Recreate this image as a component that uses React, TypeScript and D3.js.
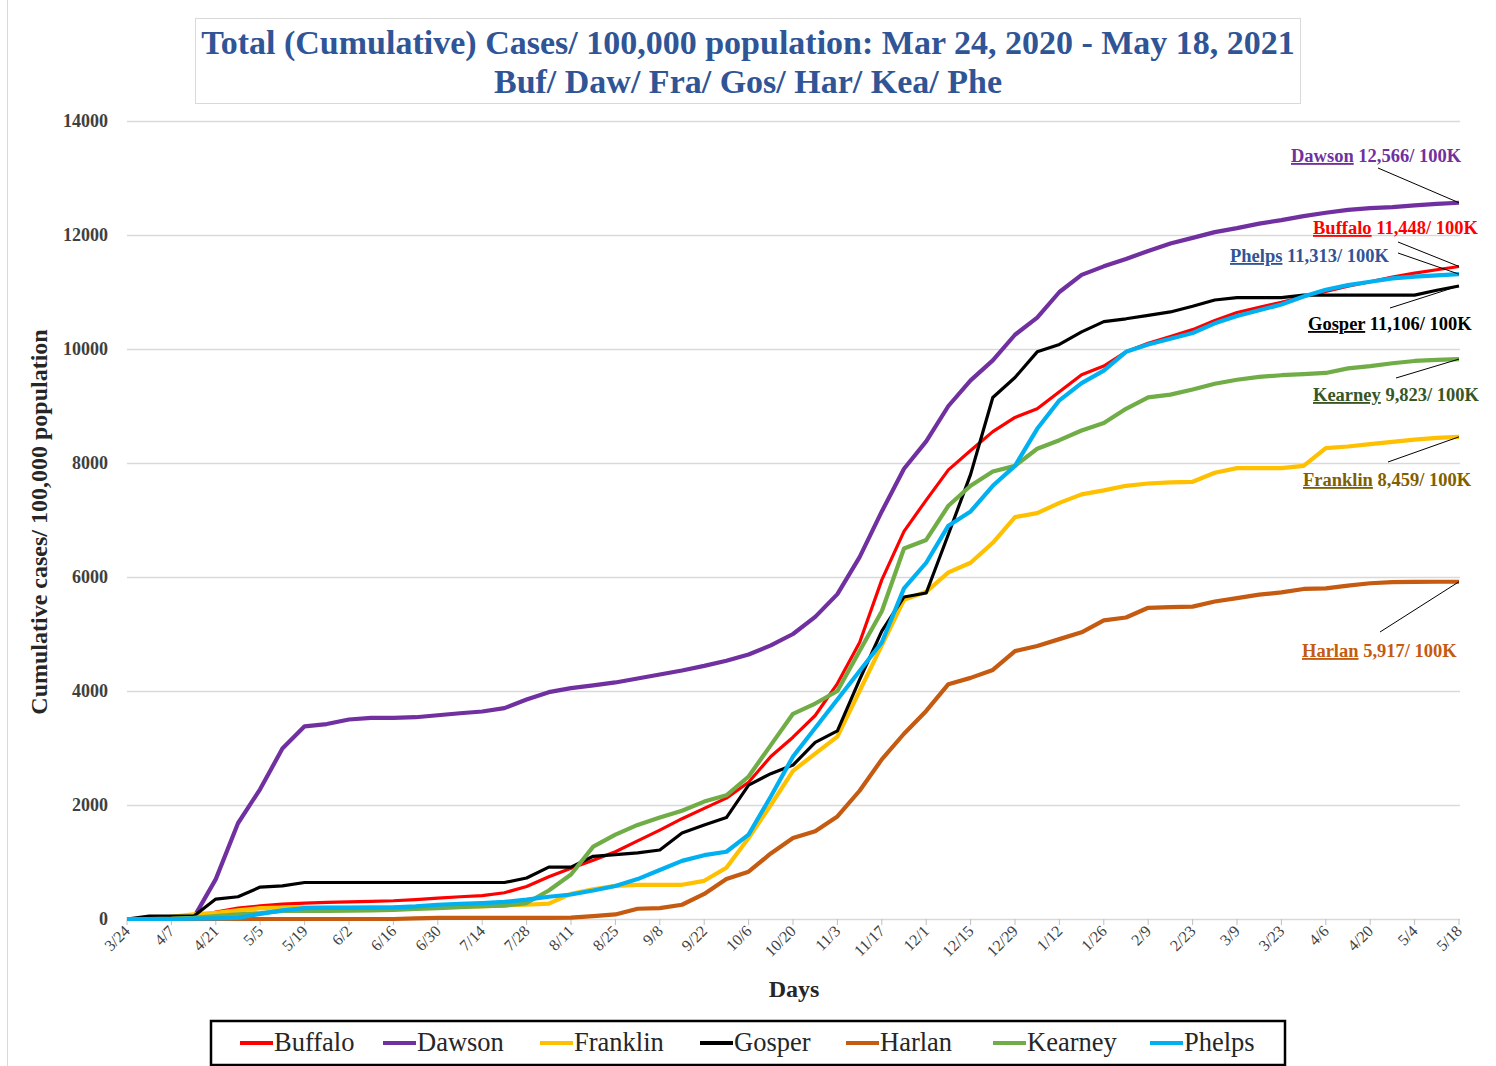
import React, { useEffect, useRef } from "react";
import * as d3 from 'd3';

// day offsets from 3/24/2020, one point a week
const days = [0, 7, 14, 21, 28, 35, 42, 49, 56, 63, 70, 77, 84, 91, 98, 105, 112, 119, 126, 133, 140, 147, 154, 161, 168, 175, 182, 189, 196, 203, 210, 217, 224, 231, 238, 245, 252, 259, 266, 273, 280, 287, 294, 301, 308, 315, 322, 329, 336, 343, 350, 357, 364, 371, 378, 385, 392, 399, 406, 413, 420];

const tickLabels = ['3/24', '4/7', '4/21', '5/5', '5/19', '6/2', '6/16', '6/30', '7/14', '7/28', '8/11', '8/25', '9/8', '9/22', '10/6', '10/20', '11/3', '11/17', '12/1', '12/15', '12/29', '1/12', '1/26', '2/9', '2/23', '3/9', '3/23', '4/6', '4/20', '5/4', '5/18'];

const yTicks = [0, 2000, 4000, 6000, 8000, 10000, 12000, 14000];

const buffalo = [0, 0, 10, 30, 120, 190, 230, 260, 280, 290, 300, 310, 320, 340, 365, 390, 410, 460, 570, 740, 890, 1030, 1180, 1370, 1560, 1760, 1940, 2120, 2400, 2850, 3190, 3570, 4130, 4850, 5950, 6800, 7350, 7880, 8220, 8550, 8800, 8950, 9250, 9550, 9700, 9950, 10100, 10220, 10340, 10500, 10640, 10730, 10820, 10920, 11010, 11100, 11180, 11260, 11330, 11390, 11448];
const dawson = [0, 0, 5, 20, 700, 1680, 2280, 2990, 3380, 3420, 3500, 3530, 3530, 3540, 3575, 3610, 3640, 3700, 3850, 3980, 4050, 4100, 4150, 4220, 4290, 4360, 4440, 4530, 4640, 4800, 5000, 5300, 5700, 6350, 7150, 7900, 8380, 9000, 9450, 9800, 10250, 10550, 11000, 11300, 11450, 11580, 11720, 11850, 11950, 12050, 12120, 12200, 12260, 12330, 12390, 12440, 12470, 12490, 12520, 12545, 12566];
const franklin = [0, 0, 40, 80, 110, 150, 190, 200, 205, 205, 205, 205, 205, 205, 210, 215, 220, 240, 250, 270, 440, 520, 580, 600, 600, 600, 670, 900, 1420, 2000, 2600, 2900, 3200, 4000, 4800, 5600, 5740, 6080, 6250, 6600, 7050, 7120, 7300, 7450, 7520, 7600, 7640, 7660, 7670, 7830, 7910, 7910, 7910, 7950, 8262, 8290, 8330, 8370, 8410, 8440, 8459];
const gosper = [0, 50, 50, 50, 350, 390, 560, 580, 640, 640, 640, 640, 640, 640, 640, 640, 640, 640, 720, 910, 910, 1100, 1130, 1160, 1210, 1510, 1650, 1780, 2350, 2550, 2700, 3100, 3300, 4200, 5050, 5650, 5720, 6750, 7800, 9150, 9500, 9950, 10080, 10300, 10480, 10530, 10590, 10650, 10750, 10860, 10900, 10900, 10900, 10945, 10945, 10945, 10945, 10945, 10945, 11030, 11106];
const harlan = [0, 0, 0, 0, 0, 0, 0, 0, 0, 0, 0, 0, 0, 10, 20, 20, 20, 20, 20, 20, 25, 50, 80, 180, 190, 250, 440, 700, 830, 1150, 1420, 1540, 1800, 2250, 2800, 3250, 3650, 4120, 4230, 4370, 4700, 4790, 4910, 5030, 5240, 5290, 5460, 5470, 5480, 5570, 5630, 5690, 5730, 5790, 5800, 5850, 5890, 5910, 5915, 5917, 5917];
const kearney = [0, 0, 5, 20, 50, 80, 105, 140, 140, 140, 145, 150, 160, 175, 190, 210, 225, 235, 280, 500, 780, 1270, 1480, 1650, 1780, 1900, 2060, 2170, 2500, 3050, 3600, 3780, 4000, 4700, 5400, 6500, 6650, 7250, 7600, 7850, 7950, 8250, 8400, 8570, 8700, 8950, 9150, 9200, 9290, 9390, 9460, 9510, 9540, 9560, 9580, 9660, 9700, 9750, 9790, 9810, 9823];
const phelps = [0, 0, 0, 5, 10, 20, 90, 150, 190, 195, 195, 200, 205, 220, 250, 265, 280, 300, 340, 390, 430, 500, 580, 700, 860, 1020, 1120, 1180, 1480, 2150, 2850, 3350, 3850, 4350, 4850, 5800, 6250, 6900, 7150, 7600, 7950, 8600, 9100, 9400, 9620, 9950, 10080, 10180, 10280, 10450, 10580, 10680, 10780, 10920, 11040, 11120, 11180, 11240, 11270, 11290, 11313];

const names = ['Buffalo', 'Dawson', 'Franklin', 'Gosper', 'Harlan', 'Kearney', 'Phelps'];
const values = [buffalo, dawson, franklin, gosper, harlan, kearney, phelps];
const colors = ['#FF0000', '#7030A0', '#FFC000', '#000000', '#C55A11', '#70AD47', '#00B0F0'];
const widths = [3.2, 4.2, 4.2, 3.2, 4.2, 4.2, 4.2];

// end-of-line callouts
const callouts = [
    { i: 1, text: '12,566/ 100K', color: '#7030A0', x: 1291, y: 162, lx: 1378, ly: 168 },
    { i: 0, text: '11,448/ 100K', color: '#FF0000', x: 1313, y: 234, lx: 1398, ly: 242 },
    { i: 6, text: '11,313/ 100K', color: '#2F5597', x: 1230, y: 262, lx: 1398, ly: 253 },
    { i: 3, text: '11,106/ 100K', color: '#000000', x: 1308, y: 330, lx: 1390, ly: 308 },
    { i: 5, text: '9,823/ 100K', color: '#375623', x: 1313, y: 401, lx: 1396, ly: 378 },
    { i: 2, text: '8,459/ 100K', color: '#7F6000', x: 1303, y: 486, lx: 1388, ly: 462 },
    { i: 4, text: '5,917/ 100K', color: '#C55A11', x: 1302, y: 657, lx: 1380, ly: 632 },
];

const legendX = [240, 383, 540, 700, 846, 993, 1150];

const serif = '"Liberation Serif", "DejaVu Serif", serif';

function App() {
    const ref = useRef<SVGSVGElement>(null);

    useEffect(() => {
        const svg = d3.select(ref.current);
        svg.selectAll('*').remove();

        const x = d3.scaleLinear().domain([0, 420]).range([127, 1459]);
        const y = d3.scaleLinear().domain([0, 14000]).range([919, 121]);

        svg.append('rect').attr('width', 1496).attr('height', 1066).attr('fill', 'white');
        svg.append('line').attr('x1', 7.5).attr('x2', 7.5).attr('y1', 0).attr('y2', 1066)
            .attr('stroke', '#D9D9D9');

        // title box
        svg.append('rect').attr('x', 195.5).attr('y', 18.5).attr('width', 1105).attr('height', 85)
            .attr('fill', 'white').attr('stroke', '#D9D9D9');
        const title = svg.append('text').attr('text-anchor', 'middle').attr('font-family', serif)
            .attr('font-weight', 'bold').attr('font-size', 34).attr('fill', '#2F5597');
        title.append('tspan').attr('x', 748).attr('y', 54)
            .text('Total (Cumulative) Cases/ 100,000 population: Mar 24, 2020 - May 18, 2021');
        title.append('tspan').attr('x', 748).attr('y', 93).text('Buf/ Daw/ Fra/ Gos/ Har/ Kea/ Phe');

        // grid
        svg.selectAll('line.grid')
            .data(yTicks)
            .enter()
            .append('line')
            .attr('x1', 127).attr('x2', 1460)
            .attr('y1', d => y(d) + 0.5).attr('y2', d => y(d) + 0.5)
            .attr('stroke', '#D9D9D9').attr('stroke-width', 1.3)

        svg.selectAll('text.ytick')
            .data(yTicks)
            .enter()
            .append('text')
            .text(d => d)
            .attr('x', 108).attr('y', d => y(d) + 6)
            .attr('text-anchor', 'end')
            .attr('font-family', serif).attr('font-weight', 'bold').attr('font-size', 18)
            .attr('fill', '#404040')

        svg.selectAll('line.xtick')
            .data(tickLabels)
            .enter()
            .append('line')
            .attr('x1', (d, i) => x(i * 14)).attr('x2', (d, i) => x(i * 14))
            .attr('y1', 919).attr('y2', 925)
            .attr('stroke', '#BFBFBF')

        svg.selectAll('text.xtick')
            .data(tickLabels)
            .enter()
            .append('text')
            .text(d => d)
            .attr('transform', (d, i) => `translate(${x(i * 14) + 4},932) rotate(-45)`)
            .attr('text-anchor', 'end')
            .attr('font-family', serif).attr('font-size', 16)
            .attr('fill', '#404040')

        svg.append('text').text('Cumulative cases/ 100,000 population')
            .attr('transform', 'translate(47,522) rotate(-90)')
            .attr('text-anchor', 'middle')
            .attr('font-family', serif).attr('font-weight', 'bold').attr('font-size', 24)
            .attr('fill', '#262626')

        svg.append('text').text('Days')
            .attr('x', 794).attr('y', 997)
            .attr('text-anchor', 'middle')
            .attr('font-family', serif).attr('font-weight', 'bold').attr('font-size', 24)
            .attr('fill', '#262626')

        // series
        const line = d3.line<number>()
            .x((d, i) => x(days[i]))
            .y(d => y(d))

        values.forEach((vals, i) => {
            svg.append('path')
                .attr('d', line(vals))
                .attr('fill', 'none')
                .attr('stroke', colors[i])
                .attr('stroke-width', widths[i])
                .attr('stroke-linejoin', 'round')
        })

        // callouts
        callouts.forEach(c => {
            const last = values[c.i][values[c.i].length - 1];
            svg.append('line')
                .attr('x1', c.lx).attr('y1', c.ly)
                .attr('x2', x(420)).attr('y2', y(last))
                .attr('stroke', 'black').attr('stroke-width', 1)
            const t = svg.append('text').attr('x', c.x).attr('y', c.y)
                .attr('font-family', serif).attr('font-weight', 'bold').attr('font-size', 18.5)
                .attr('fill', c.color)
            t.append('tspan').text(names[c.i]).attr('text-decoration', 'underline')
            t.append('tspan').text(' ' + c.text)
        })

        // legend
        svg.append('rect').attr('x', 211).attr('y', 1021).attr('width', 1074).attr('height', 44)
            .attr('fill', 'white').attr('stroke', 'black').attr('stroke-width', 2.5)
        names.forEach((n, i) => {
            svg.append('line')
                .attr('x1', legendX[i]).attr('x2', legendX[i] + 33)
                .attr('y1', 1043).attr('y2', 1043)
                .attr('stroke', colors[i]).attr('stroke-width', 4)
            svg.append('text').text(n)
                .attr('x', legendX[i] + 34).attr('y', 1051)
                .attr('font-family', serif).attr('font-size', 26.5)
                .attr('fill', '#262626')
        })
    }, []);

    return (
        <svg ref={ref} width={1496} height={1066}
            style={{ position: 'absolute', left: 0, top: 0 }} />
    );
}

export default App;
